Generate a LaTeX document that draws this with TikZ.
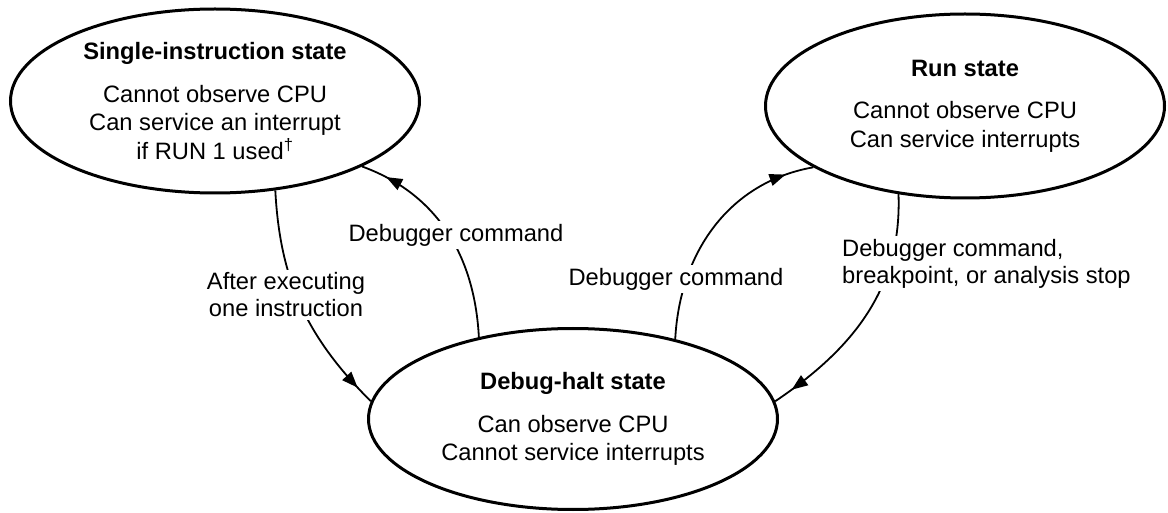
\documentclass[tikz,border=0pt]{standalone}
\usepackage{fontspec}
\setmainfont{Liberation Sans}
\usetikzlibrary{shapes.geometric,arrows.meta,decorations.markings}
\begin{document}
\begin{tikzpicture}[x=1pt,y=1pt,
  font=\fontsize{23.7}{28.5}\selectfont,
  state/.style={draw, ellipse, line width=3pt, inner sep=0pt, align=center},
  edgelabel/.style={fill=white, inner sep=3pt, align=center, font=\fontsize{23.7}{27}\selectfont},
  link/.style={line width=1.8pt, postaction={decorate},
    decoration={markings, mark=at position #1 with {\arrow{Triangle[width=12pt,length=16pt]}}}}]
\useasboundingbox (0,0) rectangle (1168,512);
% states
\node[state, minimum width=409pt, minimum height=184pt] (single) at (215,411) {\textbf{Single-instruction state}\\[14pt]Cannot observe CPU\\Can service an interrupt\\if RUN 1 used\textsuperscript{†}};
\node[state, minimum width=399pt, minimum height=184pt] (run) at (965,406) {\textbf{Run state}\\[14pt]Cannot observe CPU\\Can service interrupts};
\node[state, minimum width=409pt, minimum height=181pt] (halt) at (573,93) {\textbf{Debug-halt state}\\[14pt]Can observe CPU\\Cannot service interrupts};
% transitions
\draw[link=0.92] (single.-56) to[out=-87, in=135] (halt.175);
\draw[link=0.88] (halt.139) to[out=93, in=-20] (single.-24);
\draw[link=0.88] (halt.38) to[out=87, in=190] (run.-158);
\draw[link=0.92] (run.-127) to[out=-88, in=34] (halt.5);
% labels
\node[edgelabel] (stepdone) at (286,217) {After executing\\one instruction};
\node[edgelabel] (cmdsingle) at (456,277) {Debugger command};
\node[edgelabel] (cmdrun) at (676,233) {Debugger command};
\node[edgelabel, anchor=west, align=left] (stophalt) at (839,248.5) {Debugger command,\\breakpoint, or analysis stop};
\end{tikzpicture}
\end{document}
